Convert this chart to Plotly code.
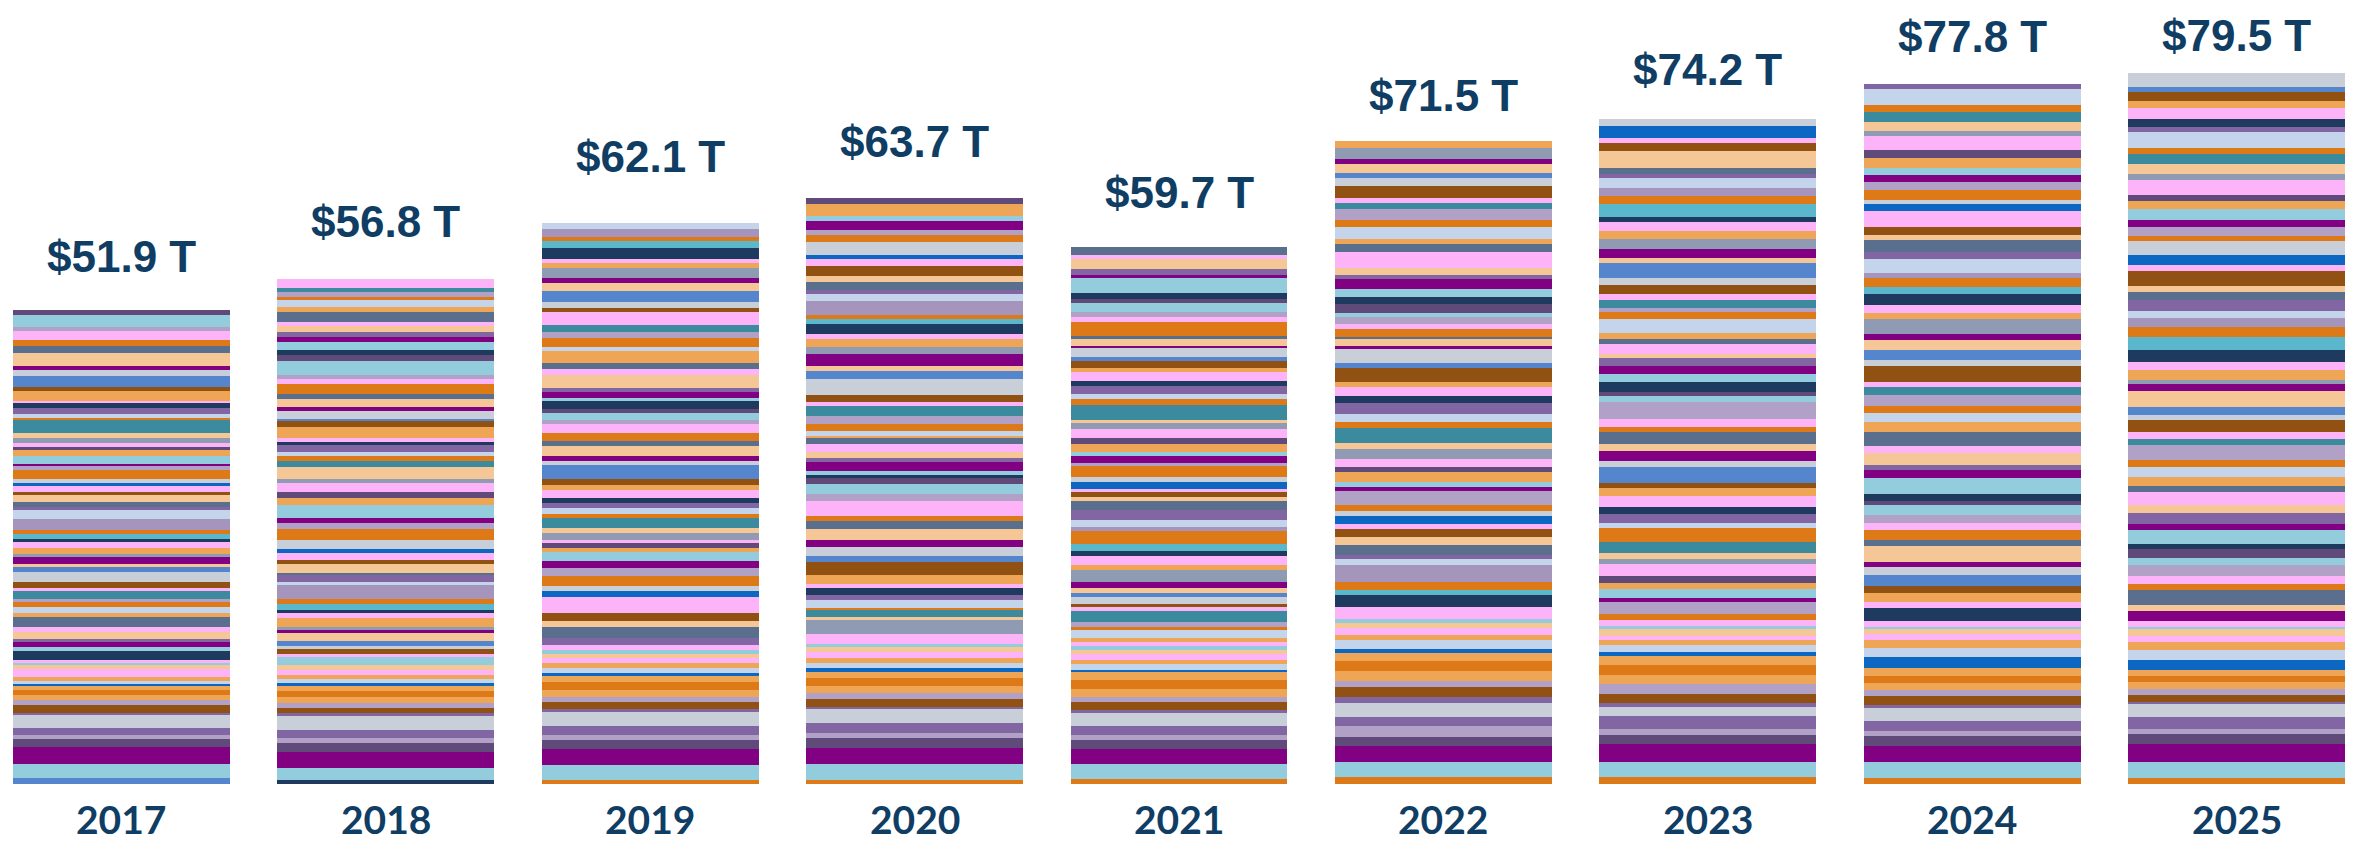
import plotly.graph_objects as go

# ---------------- data ----------------
YEARS = ["2017", "2018", "2019", "2020", "2021", "2022", "2023", "2024", "2025"]
TOTAL_LABELS = ["$51.9 T", "$56.8 T", "$62.1 T", "$63.7 T", "$59.7 T",
                "$71.5 T", "$74.2 T", "$77.8 T", "$79.5 T"]

# stripe values (trillions), bottom -> top, 80 stripes per year
SEG_2017 = [0.7, 1.5, 1.9, 0.9, 0.5, 0.7, 1.5, 0.2, 0.9, 0.5,
            0.6, 0.5, 0.5, 0.2, 0.4, 0.4, 0.9, 0.4, 0.3, 0.3,
            1.0, 0.4, 0.6, 0.3, 0.8, 0.5, 1.2, 0.4, 0.7, 0.5,
            0.4, 0.9, 0.3, 0.6, 1.2, 0.5, 0.3, 0.8, 0.4, 0.6,
            0.7, 0.3, 0.6, 0.4, 1.3, 0.9, 0.4, 0.5, 0.8, 0.3,
            0.7, 0.3, 0.5, 1.0, 0.4, 0.3, 0.9, 0.6, 0.3, 0.5,
            0.5, 0.6, 1.4, 0.3, 0.4, 0.7, 0.5, 0.3, 1.1, 0.4,
            1.2, 0.7, 0.5, 1.4, 0.8, 0.6, 1.0, 0.5, 1.3, 0.6]
SEG_2018 = [0.4, 1.4, 1.8, 1.0, 0.5, 0.9, 1.6, 0.3, 0.5, 0.6,
            0.7, 0.6, 0.6, 0.3, 0.5, 0.4, 0.6, 0.5, 0.9, 0.4,
            0.5, 0.3, 0.6, 0.9, 0.3, 0.4, 1.0, 0.5, 0.3, 0.7,
            0.6, 1.5, 0.4, 0.7, 0.3, 0.9, 0.5, 0.8, 0.4, 1.0,
            1.2, 0.7, 0.6, 1.4, 0.8, 0.6, 1.0, 0.5, 1.3, 0.7,
            0.6, 0.4, 0.8, 0.3, 0.5, 1.2, 0.6, 0.3, 0.9, 0.4,
            0.9, 0.5, 1.1, 0.6, 0.4, 1.6, 0.7, 0.5, 0.9, 0.6,
            0.5, 0.7, 0.4, 1.2, 0.5, 0.8, 0.3, 0.6, 0.4, 1.0]
SEG_2019 = [0.5, 1.6, 1.8, 1.0, 0.6, 1.0, 1.5, 0.3, 0.8, 0.6,
            0.8, 0.8, 0.7, 0.3, 0.6, 0.5, 0.6, 0.5, 0.4, 0.5,
            0.8, 1.3, 0.6, 0.9, 1.8, 0.7, 0.5, 1.1, 0.9, 0.8,
            1.0, 0.4, 0.6, 0.3, 0.8, 0.5, 1.2, 0.4, 0.7, 0.5,
            0.6, 0.9, 0.5, 0.7, 1.6, 0.4, 0.6, 1.1, 0.5, 0.9,
            1.0, 0.4, 0.8, 0.5, 0.9, 0.3, 0.7, 0.4, 1.5, 0.6,
            0.7, 1.3, 0.5, 1.0, 0.6, 0.8, 1.4, 0.5, 0.7, 1.2,
            0.9, 0.5, 1.1, 0.6, 0.4, 1.3, 0.7, 0.5, 0.9, 0.6]
SEG_2020 = [0.5, 1.7, 1.8, 1.1, 0.6, 1.1, 1.5, 0.3, 0.9, 0.6,
            0.8, 0.9, 0.7, 0.4, 0.6, 0.5, 0.7, 0.5, 0.4, 0.5,
            0.6, 1.5, 0.4, 0.7, 0.3, 0.9, 0.5, 0.8, 0.4, 1.0,
            1.5, 0.6, 1.0, 0.8, 1.2, 0.9, 0.6, 1.7, 0.7, 1.1,
            0.7, 0.3, 0.5, 1.0, 0.4, 0.7, 0.9, 0.6, 0.3, 0.5,
            0.8, 0.9, 1.1, 0.5, 0.7, 1.8, 0.9, 0.6, 1.3, 0.8,
            0.9, 0.5, 1.1, 0.6, 0.4, 1.6, 0.7, 0.5, 0.9, 0.6,
            1.2, 0.7, 0.5, 1.4, 0.8, 0.6, 1.0, 0.5, 1.3, 0.7]
SEG_2021 = [0.6, 1.6, 1.7, 1.0, 0.6, 1.0, 1.4, 0.3, 0.9, 0.6,
            0.9, 1.0, 0.8, 0.3, 0.6, 0.5, 0.6, 0.5, 0.4, 0.5,
            0.4, 0.9, 0.3, 0.6, 1.2, 0.5, 0.3, 0.8, 0.4, 0.6,
            0.7, 1.3, 0.5, 1.0, 0.6, 0.8, 1.4, 0.5, 0.7, 1.2,
            1.0, 0.4, 0.6, 0.3, 0.8, 0.5, 1.2, 0.4, 0.7, 0.5,
            0.9, 0.6, 1.1, 0.6, 0.4, 1.6, 0.7, 0.5, 0.9, 0.6,
            1.0, 0.4, 0.8, 0.5, 0.9, 0.3, 0.7, 0.4, 1.5, 0.6,
            0.6, 0.9, 0.5, 0.7, 1.6, 0.4, 0.6, 1.1, 0.5, 0.9]
SEG_2022 = [0.8, 1.6, 1.8, 1.0, 1.2, 1.1, 1.5, 0.7, 1.1, 0.7,
            1.1, 1.1, 0.9, 0.4, 1.0, 0.6, 0.7, 0.6, 0.4, 0.6,
            0.8, 1.3, 0.6, 0.9, 1.8, 0.7, 0.5, 1.1, 0.9, 0.8,
            0.6, 0.9, 0.5, 0.7, 1.6, 0.4, 0.6, 1.1, 0.5, 0.9,
            1.1, 0.7, 1.7, 0.6, 0.9, 1.2, 0.8, 1.0, 0.6, 1.5,
            0.6, 1.5, 0.4, 0.7, 0.3, 0.9, 0.5, 0.8, 0.4, 1.0,
            0.8, 0.9, 1.1, 0.5, 0.7, 1.8, 0.9, 0.6, 1.3, 0.8,
            1.2, 0.7, 0.5, 1.4, 0.8, 0.6, 1.0, 0.5, 1.3, 0.7]
SEG_2023 = [0.8, 1.7, 1.9, 1.1, 0.6, 1.5, 1.0, 0.4, 1.0, 1.1,
            1.0, 1.1, 1.0, 0.5, 0.7, 0.6, 0.5, 0.7, 0.4, 0.6,
            0.7, 1.3, 0.5, 1.0, 0.6, 0.8, 1.4, 0.5, 0.7, 1.2,
            1.5, 0.6, 1.0, 0.8, 1.2, 0.9, 0.6, 1.7, 0.7, 1.1,
            0.8, 1.3, 0.6, 0.9, 1.8, 0.7, 0.5, 1.1, 0.9, 0.8,
            0.9, 0.5, 1.1, 0.6, 0.6, 1.6, 0.7, 0.5, 0.9, 0.6,
            1.1, 0.7, 1.7, 0.6, 0.9, 1.2, 0.8, 1.0, 0.6, 1.5,
            0.8, 0.9, 1.1, 0.5, 0.7, 1.8, 0.9, 0.6, 1.3, 0.8]
SEG_2024 = [0.7, 1.7, 1.8, 1.1, 0.6, 1.1, 1.5, 0.3, 1.0, 0.6,
            0.8, 0.8, 0.9, 1.2, 1.0, 0.9, 0.7, 0.5, 0.3, 0.6,
            1.5, 0.6, 1.0, 0.8, 1.2, 0.9, 0.6, 1.7, 0.7, 1.1,
            0.8, 0.9, 1.1, 0.5, 0.7, 1.8, 0.9, 0.6, 1.3, 0.8,
            1.5, 1.1, 1.0, 0.8, 1.2, 0.9, 0.6, 1.7, 0.7, 1.1,
            1.1, 0.7, 1.7, 0.6, 0.9, 1.2, 0.8, 1.0, 0.6, 1.5,
            0.8, 1.3, 0.6, 0.9, 1.8, 0.7, 0.5, 1.1, 0.9, 0.8,
            0.7, 1.2, 0.9, 1.5, 0.6, 1.0, 1.1, 0.8, 1.7, 0.6]
SEG_2025 = [0.7, 1.8, 1.9, 1.2, 0.55, 1.3, 1.5, 0.2, 0.7, 0.75,
            0.7, 0.7, 0.7, 1.1, 1.1, 0.9, 0.7, 0.7, 0.3, 0.6,
            1.1, 0.7, 1.7, 0.6, 0.9, 1.2, 0.8, 1.0, 0.6, 1.5,
            0.7, 1.2, 0.9, 1.5, 0.6, 1.0, 1.1, 0.8, 1.7, 0.6,
            0.8, 1.3, 0.6, 0.9, 1.8, 0.7, 0.5, 1.1, 0.9, 1.3,
            1.5, 1.1, 1.0, 0.8, 1.2, 0.9, 0.6, 1.7, 0.7, 1.1,
            1.5, 0.6, 1.0, 0.8, 1.2, 0.9, 0.6, 1.7, 0.7, 1.1,
            1.1, 0.7, 1.7, 0.6, 0.9, 1.2, 0.8, 1.0, 0.6, 1.5]

SEGMENTS = [SEG_2017, SEG_2018, SEG_2019, SEG_2020, SEG_2021,
            SEG_2022, SEG_2023, SEG_2024, SEG_2025]

# ---------------- styles ----------------
PALETTE = {
    "A": "#93CDDD", "M": "#820082", "D": "#5F4A7A", "L": "#B2A1C7",
    "P": "#8266A4", "G": "#C8CFD9", "B": "#915112", "O": "#DD7A17",
    "Q": "#EFA556", "K": "#F5C796", "H": "#FDB3F8", "N": "#1E3A5F",
    "U": "#0B67C2", "T": "#3C8A9E", "S": "#5585CC", "E": "#5A6E8E",
    "V": "#C3D4EB", "R": "#8F9BB3", "C": "#5BB8CC", "Y": "#A595BD",
}
BASE_COLORS = ["S", "N", "O", "O", "O", "O", "O", "O", "O"]
BOTTOM_SEQ = ["base", "A", "M", "D", "L", "P", "G", "P", "B", "L",
              "Q", "O", "Q", "U", "V", "Q", "H", "K", "A", "H"]
UPPER_SEQ = ["N", "A", "M", "P", "K", "H", "E", "Q", "V", "O",
             "L", "T", "H", "B", "G", "S", "K", "M", "R", "Q",
             "H", "N", "C", "O", "Y", "V", "P", "E", "K", "B",
             "H", "U", "G", "O", "L", "M", "A", "Q", "D", "H",
             "R", "K", "T", "O", "V", "P", "N", "H", "Q", "B",
             "S", "G", "M", "K", "E", "O", "H", "L", "A", "D"]
UPPER_OFFSET = [0, 13, 26, 39, 7, 20, 33, 46, 52]
LABEL_GAP = [53, 58, 67, 57, 54, 46, 49, 47, 38]
TEXT_COLOR = "#0F3D63"
PX_PER_T = 9.0
# page body has an 8px margin: figure is drawn at (8, 8)
FIG_W, FIG_H = 2351, 835
PLOT_H = 776


def stripe_color(year_idx, seg_idx):
    if seg_idx < len(BOTTOM_SEQ):
        key = BOTTOM_SEQ[seg_idx]
        if key == "base":
            key = BASE_COLORS[year_idx]
    else:
        k = (seg_idx - len(BOTTOM_SEQ) + UPPER_OFFSET[year_idx]) % len(UPPER_SEQ)
        key = UPPER_SEQ[k]
    return PALETTE[key]


n_seg = len(SEG_2017)
assert all(len(s) == n_seg for s in SEGMENTS)

fig = go.Figure()
for i in range(n_seg):
    fig.add_trace(go.Bar(
        x=YEARS,
        y=[SEGMENTS[j][i] for j in range(len(YEARS))],
        marker=dict(color=[stripe_color(j, i) for j in range(len(YEARS))],
                    line=dict(width=0)),
        showlegend=False,
        hoverinfo="skip",
    ))

annotations = []
for j, yr in enumerate(YEARS):
    annotations.append(dict(
        x=j, y=sum(SEGMENTS[j]), xref="x", yref="y",
        text=TOTAL_LABELS[j], showarrow=False, yanchor="middle",
        yshift=LABEL_GAP[j],
        font=dict(family="Liberation Sans, Arial, sans-serif", size=44,
                  color=TEXT_COLOR, weight="bold"),
    ))
    annotations.append(dict(
        x=j, y=0, xref="x", yref="y",
        text=yr, showarrow=False, yanchor="middle", yshift=-35,
        font=dict(family="Lato, sans-serif", size=39, color=TEXT_COLOR,
                  weight="bold"),
    ))

fig.update_layout(
    width=FIG_W, height=FIG_H,
    barmode="stack", bargap=0.18,
    margin=dict(l=0, r=0, t=0, b=FIG_H - PLOT_H, pad=0),
    paper_bgcolor="white", plot_bgcolor="white",
    xaxis=dict(type="category", range=[-0.429, 8.463], showticklabels=False,
               showgrid=False, zeroline=False, showline=False, ticks=""),
    yaxis=dict(range=[0, PLOT_H / PX_PER_T], visible=False,
               showgrid=False, zeroline=False),
    annotations=annotations,
)

fig.write_html("out.html")
